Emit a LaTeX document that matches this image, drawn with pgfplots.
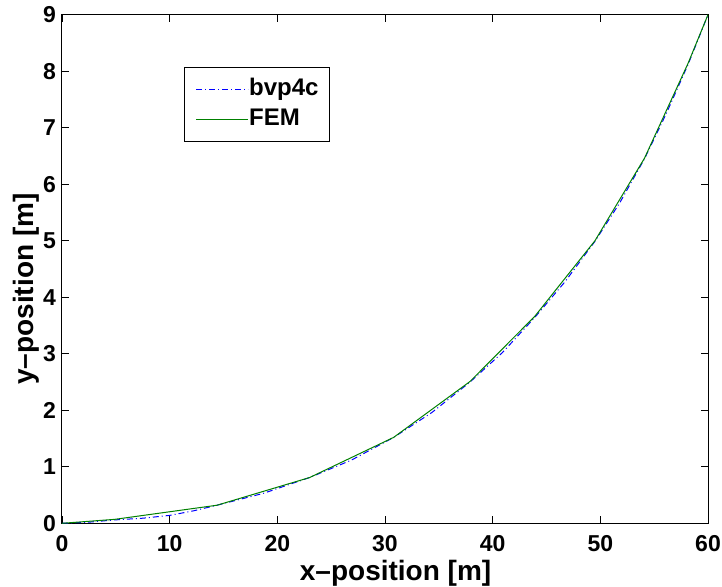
\documentclass[border=0pt]{standalone}
\usepackage{fontspec}
\setmainfont{Liberation Sans}
\usepackage{pgfplots}
\pgfplotsset{compat=1.18}

\definecolor{mblue}{rgb}{0,0,1}
\definecolor{mgreen}{rgb}{0,0.5,0}
\newcommand{\bigbf}{\fontsize{23bp}{27bp}\selectfont\bfseries}
\newcommand{\labbf}{\fontsize{28bp}{32bp}\selectfont\bfseries}
\newcommand{\legbf}{\fontsize{24bp}{28bp}\selectfont\bfseries}

% FEM nodes (piecewise linear)
\pgfplotstableread{
x      y
0      0
4.9    0.07
14.4   0.32
23.0   0.81
30.8   1.52
37.9   2.51
43.9   3.66
49.5   5.00
54.1   6.46
58.15  8.14
60     9.00
}\femdata

% bvp4c solution (smooth, slightly below the FEM chords)
\pgfplotstableread{
x      y
0      0
2.5    0.02
4.9    0.06
7.5    0.09
10.0   0.14
12.2   0.22
14.4   0.32
18.7   0.53
23.0   0.81
26.9   1.12
30.8   1.52
34.35  1.96
37.9   2.50
40.9   3.02
43.9   3.64
46.7   4.27
49.5   4.99
51.8   5.67
54.1   6.45
56.1   7.24
58.15  8.12
60     9.00
}\bvpdata

\tikzset{
  bvpline/.style={draw=mblue, line width=1bp, dash pattern=on 6bp off 3bp on 1bp off 3bp},
  femline/.style={draw=mgreen, line width=1bp},
}

\pgfplotsset{
  legend image code/.code={\draw[#1, line width=1.6bp] (0bp,0bp) -- (52bp,0bp);},
}

\begin{document}
\begin{tikzpicture}
\begin{axis}[
  scale only axis, width=646bp, height=508.6bp,
  xmin=0, xmax=60, ymin=0, ymax=9,
  xtick={0,10,...,60}, ytick={0,1,...,9},
  tick align=inside, major tick length=7bp,
  axis line style={line width=1bp},
  every tick/.style={black, line width=0.8bp},
  /pgf/number format/assume math mode=true,
  ticklabel style={font=\bigbf, inner sep=0pt},
  xticklabel style={anchor=base, yshift=-28.4bp},
  yticklabel style={anchor=east, xshift=-6bp},
  label style={font=\labbf, inner sep=0pt},
  xlabel={x--position [m]},
  ylabel={y--position [m]},
  xlabel style={at={(axis description cs:0.368,0)}, anchor=base west, yshift=-57bp},
  ylabel style={at={(axis description cs:0,0.272)}, anchor=base west, yshift=28bp},
  legend style={at={(0.189,0.897)}, anchor=north west, line width=1bp,
    font=\legbf, inner xsep=11bp, inner ysep=11bp, row sep=8bp,
    nodes={inner sep=0pt, text height=17bp, text depth=5bp},
    /tikz/every even column/.append style={column sep=6bp}},
  legend cell align=left,
]
\addplot[bvpline] table {\bvpdata};
\addplot[femline] table {\femdata};
\legend{bvp4c, FEM}
\end{axis}
\path ([shift={(-62bp,-61.7bp)}]current axis.south west) rectangle ([shift={(14bp,14.7bp)}]current axis.north east);
\end{tikzpicture}
\end{document}
